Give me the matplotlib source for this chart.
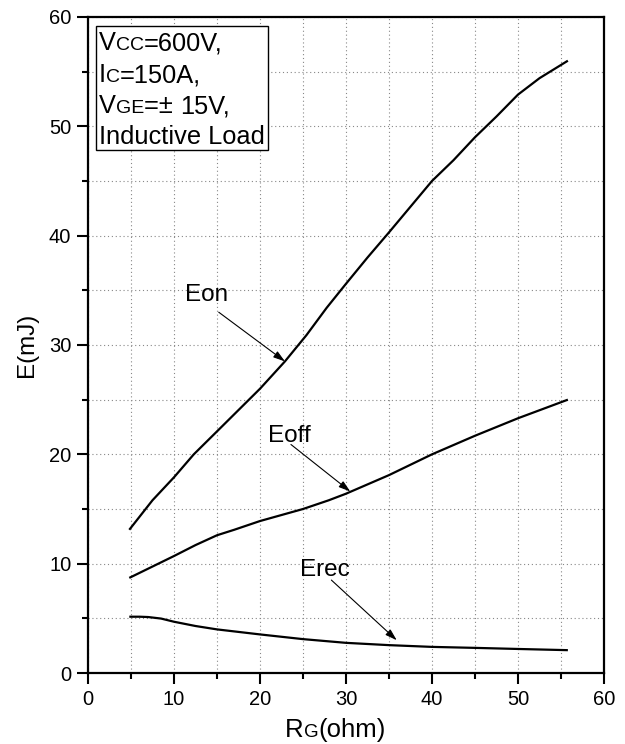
import matplotlib
matplotlib.use("Agg")
import matplotlib.pyplot as plt
import matplotlib.transforms as mtransforms
from matplotlib.patches import Rectangle
from matplotlib.ticker import MultipleLocator

plt.rcParams['font.family'] = ['Liberation Sans', 'DejaVu Sans']

# ---------------------------
# DATA
# ---------------------------
eon_rg = [4.8, 6.1, 7.5, 10, 12.3, 15, 20, 22.9, 25.4, 27.75, 30, 32.5, 35, 40, 42.5, 45, 47.5, 50, 52.5, 55.8]
eon_e = [13.1, 14.4, 15.8, 17.9, 20.0, 22.1, 26.0, 28.5, 30.9, 33.4, 35.6, 38.0, 40.3, 45.0, 46.9, 49.0, 50.9, 52.9, 54.4, 56.0]

eoff_rg = [4.8, 10, 12.5, 15, 17, 20, 25, 28, 30, 35, 40, 45, 50, 55.8]
eoff_e = [8.7, 10.7, 11.7, 12.6, 13.1, 13.9, 15.0, 15.8, 16.4, 18.1, 20.0, 21.7, 23.3, 25.0]

erec_rg = [4.8, 6, 7, 8.5, 10, 12.5, 15, 20, 25, 30, 35, 40, 45, 50, 55.8]
erec_e = [5.15, 5.15, 5.12, 4.98, 4.69, 4.3, 3.99, 3.53, 3.1, 2.76, 2.55, 2.39, 2.3, 2.2, 2.09]

# label text, text position (left, baseline), arrow start, arrow tip
labels = ["Eon", "Eoff", "Erec"]
label_pos = [(11.3, 34.0), (20.9, 21.1), (24.65, 8.9)]
arrow_from = [(15.2, 33.0), (23.6, 20.9), (28.3, 8.5)]
arrow_to = [(22.9, 28.5), (30.5, 16.6), (35.9, 3.0)]

ticks = [0, 10, 20, 30, 40, 50, 60]

# ---------------------------
# FIGURE
# ---------------------------
fig = plt.figure(figsize=(6.25, 7.44), dpi=100)
ax = fig.add_axes([0.1408, 0.0954, 0.8256, 0.8818])
renderer = fig.canvas.get_renderer()


def rich_text(x, y, pieces, transform, center=False):
    """Draw text pieces of different sizes on one baseline."""
    texts = []
    widths = []
    for s, size in pieces:
        t = ax.text(x, y, s, fontsize=size, transform=transform,
                    ha='left', va='baseline', clip_on=False)
        texts.append(t)
        widths.append(t.get_window_extent(renderer).width)
    dx = -sum(widths) / 2 if center else 0
    for t, w in zip(texts, widths):
        t.set_transform(mtransforms.offset_copy(transform, fig=fig, x=dx, y=0, units='dots'))
        dx += w
    return texts


for xs, ys in [(eon_rg, eon_e), (eoff_rg, eoff_e), (erec_rg, erec_e)]:
    ax.plot(xs, ys, color='black', lw=1.6, solid_capstyle='butt', solid_joinstyle='round')

for name, pos, start, tip in zip(labels, label_pos, arrow_from, arrow_to):
    ax.text(pos[0], pos[1], name, fontsize=17.5, ha='left', va='baseline')
    ax.annotate('', xy=tip, xytext=start,
                arrowprops=dict(arrowstyle='-|>,head_length=0.7,head_width=0.22',
                                lw=0.8, color='black', shrinkA=0, shrinkB=0))

ax.set_xlim(0, 60)
ax.set_ylim(0, 60)
ax.set_xticks(ticks)
ax.set_yticks(ticks)
ax.xaxis.set_minor_locator(MultipleLocator(5))
ax.yaxis.set_minor_locator(MultipleLocator(5))
ax.tick_params(which='major', direction='out', length=8, width=1.5, labelsize=14.5, pad=4)
ax.tick_params(which='minor', direction='out', length=4.5, width=1.5)
ax.grid(True, which='both', linestyle=(0, (1, 2.5)), color='#888888', lw=0.8)
for sp in ax.spines.values():
    sp.set_linewidth(1.6)

# condition box
ax.add_patch(Rectangle((0.0155, 0.7966), 0.3333, 0.1896, transform=ax.transAxes,
                       fill=True, facecolor='white', edgecolor='black', lw=1.0, zorder=3))
big, small = 18.3, 14
lines = [
    [("V", big), ("CC", small), ("=600V,", big)],
    [("I", big), ("C", small), ("=150A,", big)],
    [("V", big), ("GE", small), ("=\u00b1 ", big), ("15V,", big)],
    [("Inductive Load", big)],
]
baselines = [0.9495, 0.9006, 0.853, 0.807]
for pieces, yb in zip(lines, baselines):
    for t in rich_text(0.0213, yb, pieces, ax.transAxes):
        t.set_zorder(4)

# axis labels
rich_text(0.48, -0.098, [("R", 18.5), ("G", 13.5), ("(ohm)", 18.5)], ax.transAxes, center=True)
ax.text(-0.1066, 0.5, "E(mJ)", fontsize=17.5, rotation=90, rotation_mode='anchor',
        ha='center', va='baseline', transform=ax.transAxes)

fig.savefig("out.png", dpi=100)
